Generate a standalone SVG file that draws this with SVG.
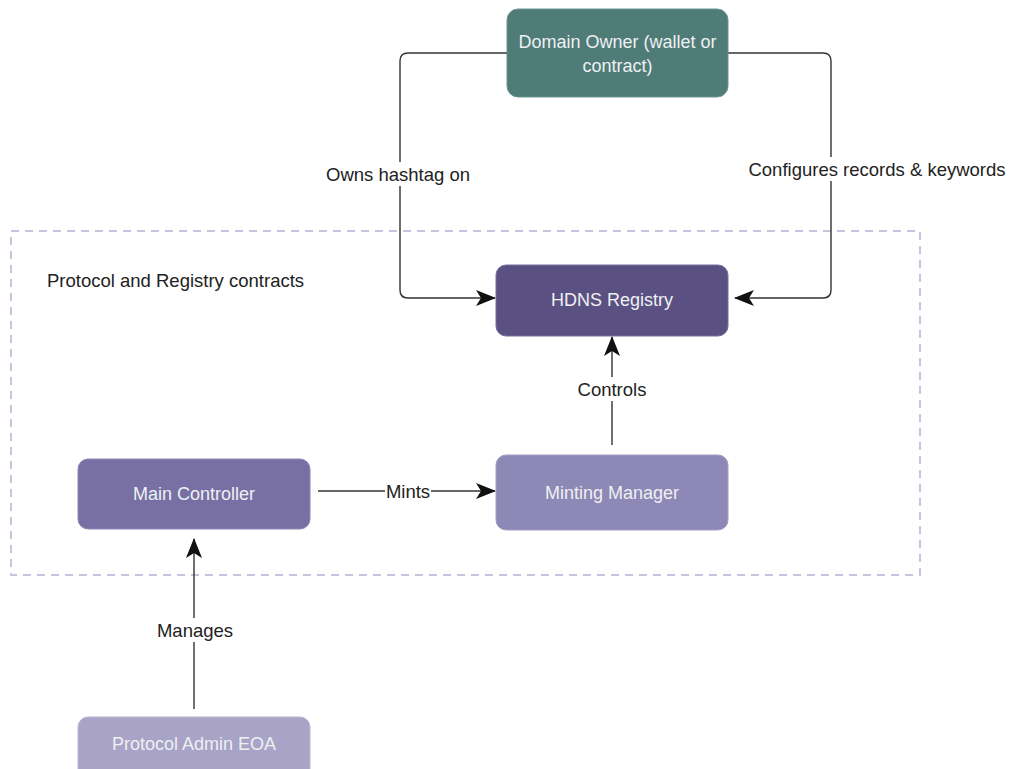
<svg xmlns="http://www.w3.org/2000/svg" width="1011" height="769" viewBox="0 0 1011 769">
<style>
.node-text{font-family:"Liberation Sans",Arial,sans-serif;font-size:18px;fill:#eef0f2;text-anchor:middle;dominant-baseline:central}
.lbl{font-family:"Liberation Sans",Arial,sans-serif;font-size:18.5px;fill:#222;text-anchor:middle;dominant-baseline:central}
.edge{fill:none;stroke:#333;stroke-width:1.4}
.lblbg{fill:#fff}
</style>
<defs>
<marker id="arr" viewBox="0 0 20 16" refX="19" refY="8" markerWidth="20" markerHeight="16" markerUnits="userSpaceOnUse" orient="auto">
<path d="M0,0 L20,8 L0,16 L5,8 Z" fill="#111"/>
</marker>
</defs>
<rect x="11" y="231" width="909" height="344" fill="none" stroke="#c8c3de" stroke-width="2" stroke-dasharray="8,6"/>
<text x="47" y="280" class="lbl" style="text-anchor:start">Protocol and Registry contracts</text>
<g id="connectors">
<path class="edge" d="M507,53 H408 Q400,53 400,61 V290 Q400,298 408,298 H495" marker-end="url(#arr)"/>
<rect class="lblbg" x="322" y="162" width="152" height="24"/>
<text class="lbl" x="398" y="174">Owns hashtag on</text>
<path class="edge" d="M728,53 H823 Q831,53 831,61 V290 Q831,298 823,298 H735" marker-end="url(#arr)"/>
<rect class="lblbg" x="744" y="157" width="266" height="24"/>
<text class="lbl" x="877" y="169">Configures records &amp; keywords</text>
<path class="edge" d="M612,445 V337" marker-end="url(#arr)"/>
<rect class="lblbg" x="574" y="377" width="76" height="24"/>
<text class="lbl" x="612" y="389">Controls</text>
<path class="edge" d="M318,491 H495" marker-end="url(#arr)"/>
<rect class="lblbg" x="385" y="480" width="46" height="22"/>
<text class="lbl" x="408" y="491">Mints</text>
<path class="edge" d="M194,709 V539" marker-end="url(#arr)"/>
<rect class="lblbg" x="156" y="618" width="78" height="24"/>
<text class="lbl" x="195" y="630">Manages</text>
</g>
<g id="domain-owner">
<rect x="507" y="9" width="221" height="88" rx="11" fill="#4f7c77" stroke="#6a9590" stroke-width="1"/>
<text class="node-text" x="617.5" y="42">Domain Owner (wallet or</text>
<text class="node-text" x="617.5" y="66">contract)</text>
</g>
<g id="hdns-registry">
<rect x="496" y="265" width="232" height="71" rx="10" fill="#5a5182" stroke="#766fa0" stroke-width="1"/>
<text class="node-text" x="612" y="300">HDNS Registry</text>
</g>
<g id="main-controller">
<rect x="78" y="459" width="232" height="70" rx="10" fill="#7870a4" stroke="#8d86b6" stroke-width="1"/>
<text class="node-text" x="194" y="494">Main Controller</text>
</g>
<g id="minting-manager">
<rect x="496" y="455" width="232" height="75" rx="10" fill="#8e88b6" stroke="#a39ec6" stroke-width="1"/>
<text class="node-text" x="612" y="493">Minting Manager</text>
</g>
<g id="protocol-admin">
<rect x="78" y="717" width="232" height="70" rx="10" fill="#a8a3c7" stroke="#bbb6d6" stroke-width="1"/>
<text class="node-text" x="194" y="744">Protocol Admin EOA</text>
</g>
</svg>
